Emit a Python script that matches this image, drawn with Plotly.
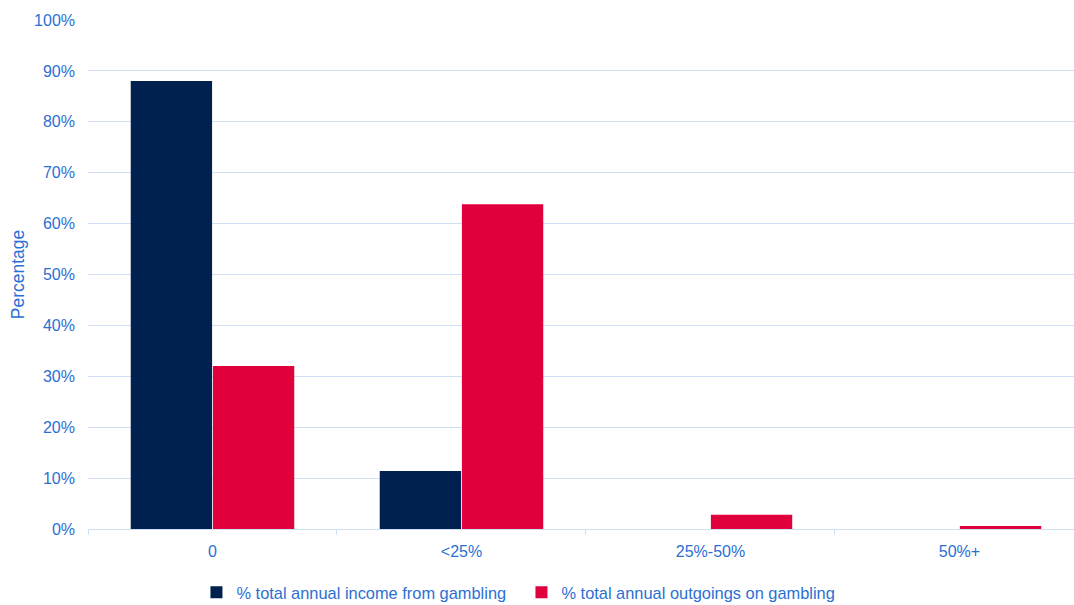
import plotly.graph_objects as go

categories = ["0", "<25%", "25%-50%", "50%+"]
income = [88, 11.4, 0, 0]
outgoings = [32, 63.8, 2.8, 0.6]
series_names = ["% total annual income from gambling", "% total annual outgoings on gambling"]

blue_text = "#2b6fd4"
navy = "#00214f"
red = "#e0003c"
grid = "#cfdff6"

fig = go.Figure()
fig.add_trace(go.Bar(x=categories, y=income, name=series_names[0], marker_color=navy,
                     marker_line_width=0))
fig.add_trace(go.Bar(x=categories, y=outgoings, name=series_names[1], marker_color=red,
                     marker_line_width=0))

fig.update_layout(
    width=1074, height=605,
    margin=dict(l=88, r=0, t=20, b=76, autoexpand=False),
    paper_bgcolor="white", plot_bgcolor="white",
    barmode="group", bargap=0.34, bargroupgap=0.01,
    font=dict(family="Liberation Sans, Arial, sans-serif", size=16, color=blue_text),
    legend=dict(orientation="h", x=0.11, xanchor="left", y=-0.125, yanchor="middle",
                font=dict(size=16.4, color=blue_text), entrywidth=280, traceorder="normal"),
    showlegend=True,
)
fig.update_xaxes(type="category", range=[-0.5, 3.46], showgrid=False,
                 showline=True, linecolor=grid, linewidth=1,
                 ticks="outside", tickson="boundaries", ticklen=5, tickcolor=grid,
                 ticklabelstandoff=8,
                 tickfont=dict(size=16, color=blue_text))
fig.update_yaxes(range=[0, 100], dtick=10, ticksuffix="%", showgrid=True, gridcolor=grid,
                 gridwidth=1, zeroline=False, showline=False,
                 ticklabelstandoff=12,
                 tickfont=dict(size=16, color=blue_text),
                 title=dict(text="Percentage", font=dict(size=17.5, color=blue_text), standoff=4))

fig.write_html("out.html")
